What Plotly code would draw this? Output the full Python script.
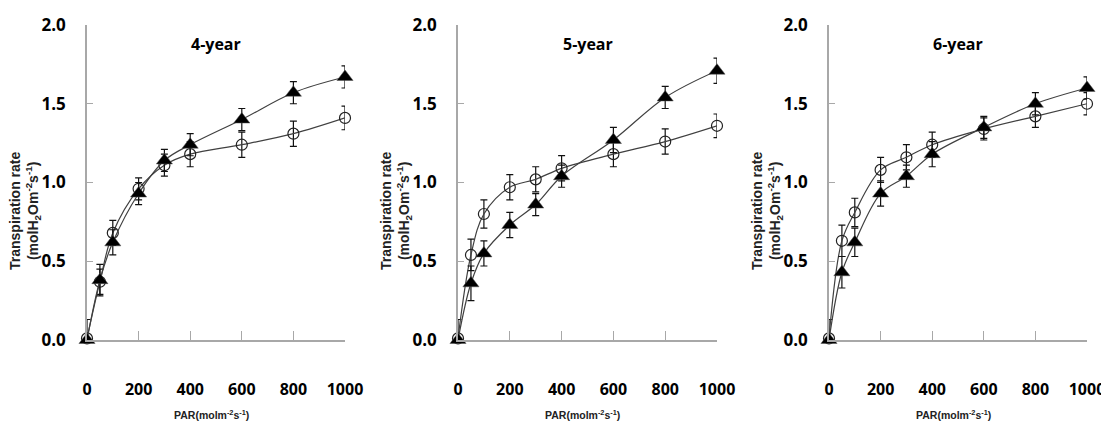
import plotly.graph_objects as go

par = [0, 50, 100, 200, 300, 400, 600, 800, 1000]
x_ticks = [0, 200, 400, 600, 800, 1000]
y_ticks = [0.0, 0.5, 1.0, 1.5, 2.0]
panel_titles = ["4-year", "5-year", "6-year"]

# filled triangles
tri_4 = [0.00, 0.38, 0.62, 0.93, 1.14, 1.24, 1.40, 1.57, 1.67]
tri_4_err = [0.00, 0.10, 0.08, 0.07, 0.07, 0.07, 0.07, 0.07, 0.07]
tri_5 = [0.00, 0.36, 0.55, 0.73, 0.86, 1.04, 1.27, 1.54, 1.71]
tri_5_err = [0.00, 0.11, 0.08, 0.08, 0.07, 0.07, 0.08, 0.07, 0.08]
tri_6 = [0.00, 0.43, 0.62, 0.93, 1.04, 1.18, 1.35, 1.50, 1.60]
tri_6_err = [0.00, 0.10, 0.09, 0.08, 0.07, 0.08, 0.07, 0.07, 0.07]

# open circles
cir_4 = [0.01, 0.37, 0.68, 0.96, 1.11, 1.18, 1.24, 1.31, 1.41]
cir_4_err = [0.12, 0.08, 0.08, 0.07, 0.07, 0.08, 0.08, 0.08, 0.075]
cir_5 = [0.01, 0.54, 0.80, 0.97, 1.02, 1.09, 1.18, 1.26, 1.36]
cir_5_err = [0.12, 0.10, 0.09, 0.08, 0.08, 0.08, 0.08, 0.08, 0.075]
cir_6 = [0.01, 0.63, 0.81, 1.08, 1.16, 1.24, 1.34, 1.42, 1.50]
cir_6_err = [0.12, 0.10, 0.09, 0.08, 0.08, 0.08, 0.07, 0.07, 0.07]

tri_sets = [(tri_4, tri_4_err), (tri_5, tri_5_err), (tri_6, tri_6_err)]
cir_sets = [(cir_4, cir_4_err), (cir_5, cir_5_err), (cir_6, cir_6_err)]

# page body has an 8px margin: the figure is placed at (8, 8)
OFF = 8
W, H = 1109 - OFF, 423 - OFF
x_px = [(87, 345), (458, 717), (829, 1087)]
y_px = (25, 340)
ytitle_px = [25, 396, 767]


def px_x(p):
    return (p - OFF) / W


def px_y(p):
    return 1 - (p - OFF) / H


fig = go.Figure()
AX = "#a8a8a8"
LINE = "#404040"

for i in range(3):
    xa = "x" if i == 0 else f"x{i+1}"
    ya = "y" if i == 0 else f"y{i+1}"
    # circles
    cy, ce = cir_sets[i]
    fig.add_trace(go.Scatter(
        x=par, y=cy, xaxis=xa, yaxis=ya, mode="lines+markers",
        line=dict(color=LINE, width=1.2, shape="spline", smoothing=1.0),
        marker=dict(symbol="circle-open", size=11, color="#222222", line=dict(width=1.2)),
        error_y=dict(type="data", array=ce,
                     arrayminus=[0 if p == 0 else e for p, e in zip(par, ce)],
                     color="#111111", thickness=1.2, width=3.5),
        cliponaxis=False, showlegend=False))
    # triangles
    ty, te = tri_sets[i]
    fig.add_trace(go.Scatter(
        x=par, y=ty, xaxis=xa, yaxis=ya, mode="lines+markers",
        line=dict(color=LINE, width=1.2, shape="spline", smoothing=1.0),
        marker=dict(symbol="triangle-up", size=14, color="#000000",
                    line=dict(color="#555555", width=0.5)),
        error_y=dict(type="data", array=te, color="#111111", thickness=1.2, width=3.5),
        cliponaxis=False, showlegend=False))

    xd = [px_x(x_px[i][0]), px_x(x_px[i][1])]
    yd = [px_y(y_px[1]), px_y(y_px[0])]
    key = "" if i == 0 else str(i + 1)
    fig.layout["xaxis" + key] = dict(
        domain=xd, range=[0, 1000], anchor=ya, tickvals=x_ticks,
        ticktext=[str(v) for v in x_ticks], ticks="inside", ticklen=9,
        tickcolor=AX, tickwidth=1.3, showline=True, linecolor=AX, linewidth=1.5,
        showgrid=False, zeroline=False, ticklabelstandoff=34, automargin=False,
        ticklabeloverflow="allow",
        tickfont=dict(family="Open Sans", size=16, color="black", weight="bold"))
    fig.layout["yaxis" + key] = dict(
        domain=yd, range=[0, 2.0], anchor=xa, tickvals=y_ticks,
        ticktext=[f"{v:.1f}" for v in y_ticks], ticks="inside", ticklen=6,
        tickcolor=AX, tickwidth=1.3, showline=True, linecolor=AX, linewidth=1.5,
        showgrid=False, zeroline=False, ticklabelstandoff=16, automargin=False,
        tickfont=dict(family="Open Sans", size=17, color="black", weight="bold"))

    fig.add_annotation(x=500, y=1.88, xref=xa, yref=ya, text=panel_titles[i],
                       showarrow=False, xanchor="center", yanchor="middle",
                       font=dict(family="Open Sans", size=16, color="black", weight="bold"))
    fig.add_annotation(x=px_x(ytitle_px[i]), y=px_y(211), xref="paper", yref="paper",
                       text="Transpiration rate<br>(molH<sub>2</sub>Om<sup>-2</sup>s<sup>-1</sup>)",
                       textangle=-90, showarrow=False, xanchor="center", yanchor="middle",
                       font=dict(family="Liberation Sans", size=14, color="#222222", weight="bold"))
    fig.add_annotation(x=px_x((x_px[i][0] + x_px[i][1]) / 2 - 5), y=px_y(414),
                       xref="paper", yref="paper",
                       text="PAR(molm<sup>-2</sup>s<sup>-1</sup>)",
                       showarrow=False, xanchor="center", yanchor="middle",
                       font=dict(family="Liberation Sans", size=10.5, color="#222222", weight="bold"))

fig.update_layout(width=W, height=H, margin=dict(l=0, r=0, t=0, b=0),
                  paper_bgcolor="white", plot_bgcolor="white", showlegend=False)

fig.write_html("out.html")
